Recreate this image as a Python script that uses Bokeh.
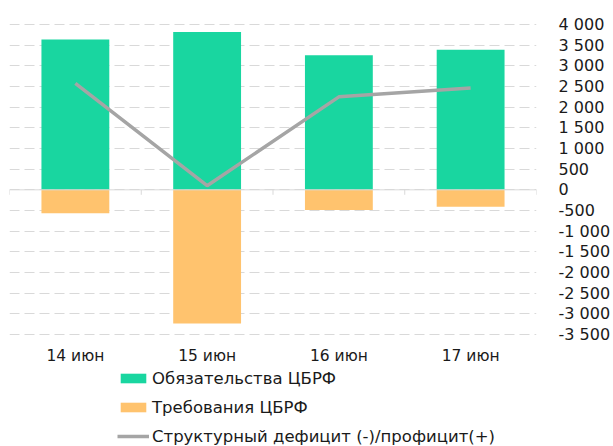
from bokeh.plotting import figure
from bokeh.models import FactorRange, Range1d, FixedTicker, Legend, LegendItem, Span
from bokeh.core.properties import value
from bokeh.embed import file_html
from bokeh.resources import INLINE

categories = ["14 июн", "15 июн", "16 июн", "17 июн"]
obligations = [3640, 3820, 3255, 3390]
claims = [-565, -3235, -490, -410]
structural = [2575, 100, 2250, 2465]
y_ticks = list(range(-3500, 4001, 500))

label_obl = "Обязательства ЦБРФ"
label_cl = "Требования ЦБРФ"
label_str = "Структурный дефицит (-)/профицит(+)"

GREEN = "#19d6a0"
ORANGE = "#ffc36e"
GRAY = "#a5a5a5"
TEXT = "#1a1a1a"
FONT = "DejaVu Sans"

p = figure(x_range=FactorRange(*categories, range_padding=0),
           y_range=Range1d(-6210, 4581),
           width=613, height=446, output_backend="svg", toolbar_location=None,
           y_axis_location="right", x_axis_location=None,
           min_border_left=9, min_border_right=72, min_border_top=0, min_border_bottom=0)
p.outline_line_color = None
p.background_fill_color = "white"
p.border_fill_color = "white"

p.xgrid.grid_line_color = None
p.ygrid.ticker = FixedTicker(ticks=y_ticks)
p.ygrid.grid_line_color = "#d9d9d9"
p.ygrid.grid_line_dash = "10 5"
p.ygrid.grid_line_width = 1

yax = p.yaxis[0]
yax.ticker = FixedTicker(ticks=y_ticks)
yax.major_label_overrides = {t: f"{t:,}".replace(",", " ") for t in y_ticks}
yax.axis_line_color = None
yax.major_tick_line_color = None
yax.minor_tick_line_color = None
yax.major_label_standoff = 16
yax.major_label_text_font = FONT
yax.major_label_text_font_size = "16px"
yax.major_label_text_color = TEXT

r_obl = p.vbar(x=categories, top=obligations, width=0.515, fill_color=GREEN, line_color=None)
r_cl = p.vbar(x=categories, top=claims, width=0.515, fill_color=ORANGE, line_color=None)

zero = Span(location=0, dimension="width", line_color="#d9d9d9", line_width=1)
p.add_layout(zero)
bounds = list(range(len(categories) + 1))
tick_len = 120
p.segment(x0=bounds, y0=[0] * len(bounds), x1=bounds, y1=[-tick_len] * len(bounds),
          line_color="#d9d9d9", line_width=1)

r_str = p.line(x=categories, y=structural, line_color=GRAY, line_width=3.5)

# category labels (axis row below the plot)
cat_label_y = -4032
p.text(x=categories, y=[cat_label_y] * len(categories), text=categories,
       text_align="center", text_baseline="middle",
       text_font=value(FONT), text_font_size="15.5px", text_color=TEXT)

legend = Legend(items=[LegendItem(label=label_obl, renderers=[r_obl]),
                       LegendItem(label=label_cl, renderers=[r_cl]),
                       LegendItem(label=label_str, renderers=[r_str])],
                orientation="vertical", location=(108, 0))
legend.border_line_color = None
legend.background_fill_alpha = 0
legend.padding = 0
legend.margin = 0
legend.spacing = 9
legend.label_height = 20
legend.glyph_height = 12
legend.glyph_width = 32
legend.label_standoff = 3
legend.label_text_font = FONT
legend.label_text_font_size = "16.5px"
legend.label_text_color = TEXT
p.add_layout(legend, "center")

open("out.html", "w").write(file_html(p, INLINE))
